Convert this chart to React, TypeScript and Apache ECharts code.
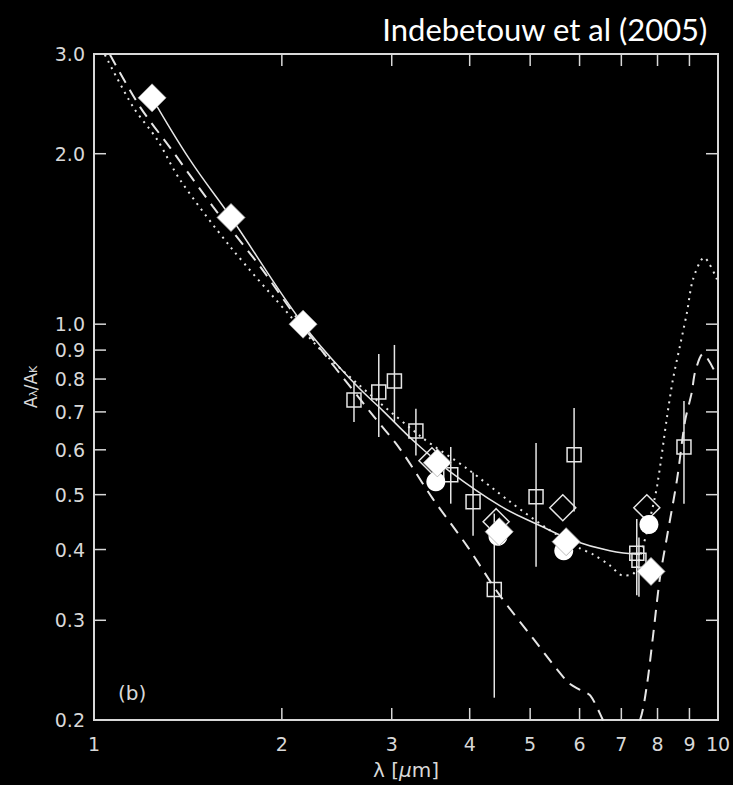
import React, { useEffect, useRef } from 'react';
import * as echarts from 'echarts';

// Axis ticks and labels
const xTicks = [1, 2, 3, 4, 5, 6, 7, 8, 9, 10];
const xTickLabels = ['1', '2', '3', '4', '5', '6', '7', '8', '9', '10'];
const yTicks = [0.2, 0.3, 0.4, 0.5, 0.6, 0.7, 0.8, 0.9, 1.0, 2.0, 3.0];
const yTickLabels = ['0.2', '0.3', '0.4', '0.5', '0.6', '0.7', '0.8', '0.9', '1.0', '2.0', '3.0'];

// Curves [lambda, A/AK]
const solidCurve = [
  [1.239, 2.51], [1.425, 1.95], [1.658, 1.543], [2.163, 1.0], [2.6, 0.791], [2.905, 0.703],
  [3.29, 0.615], [3.72, 0.549], [4.47, 0.478], [5.18, 0.441], [5.86, 0.415], [6.71, 0.398], [7.5, 0.392],
];
const dottedCurve = [
  [1.041, 2.99], [1.155, 2.42], [1.262, 2.12], [1.373, 1.8], [1.652, 1.372], [2.084, 1.021],
  [2.388, 0.868], [3.33, 0.635], [3.96, 0.556], [4.64, 0.486], [5.32, 0.436], [6.01, 0.402],
  [6.31, 0.392], [6.71, 0.375], [7.04, 0.36], [7.31, 0.362], [7.58, 0.405], [7.78, 0.453],
  [7.99, 0.519], [8.29, 0.689], [8.47, 0.8], [8.69, 0.915], [8.92, 1.05], [9.12, 1.2],
  [9.5, 1.311], [9.96, 1.2],
];
const dashedCurve = [
  [1.061, 2.99], [1.185, 2.42], [1.324, 2.05], [1.551, 1.613], [1.845, 1.265], [2.138, 1.008],
  [2.77, 0.7], [3.09, 0.603], [3.49, 0.492], [3.96, 0.406], [4.47, 0.332], [5.05, 0.279],
  [5.73, 0.234], [6.01, 0.226], [6.24, 0.221], [6.54, 0.2], [7.0, 0.17], [7.5, 0.2],
  [7.69, 0.23], [7.87, 0.282], [8.07, 0.356], [8.29, 0.423], [8.6, 0.533], [8.85, 0.672],
  [9.08, 0.759], [9.19, 0.823], [9.46, 0.886], [9.96, 0.81],
];

// Open squares with error bars
const squareX = [2.61, 2.86, 3.03, 3.28, 3.73, 4.05, 4.38, 5.11, 5.88, 7.41, 7.47, 8.82];
const squareY = [0.735, 0.759, 0.794, 0.648, 0.542, 0.486, 0.34, 0.496, 0.588, 0.394, 0.383, 0.607];
const squareLo = [0.672, 0.632, 0.672, 0.586, 0.482, 0.423, 0.219, 0.373, 0.467, 0.332, 0.33, 0.482];
const squareHi = [0.791, 0.886, 0.919, 0.709, 0.607, 0.547, 0.463, 0.617, 0.711, 0.453, 0.42, 0.732];

// Filled diamonds
const fDiamondX = [1.239, 1.658, 2.163, 3.55, 4.46, 5.71, 7.81];
const fDiamondY = [2.51, 1.543, 1.0, 0.569, 0.43, 0.413, 0.366];
// Open diamonds
const oDiamondX = [3.48, 4.41, 5.64, 7.69];
const oDiamondY = [0.574, 0.448, 0.474, 0.474];
// Filled circles
const circleX = [3.53, 4.44, 5.66, 7.75];
const circleY = [0.527, 0.422, 0.398, 0.443];

const X_MIN = 1;
const X_MAX = 10;
const Y_MIN = 0.2;
const Y_MAX = 3.0;

const AXIS = '#d8d8d8';
const LINE = '#e6e6e6';
const TICK_FONT = 'DejaVu Sans';

export default function App() {
  const ref = useRef<HTMLDivElement>(null);

  useEffect(() => {
    if (!ref.current) return;
    const chart = echarts.init(ref.current, undefined, { renderer: 'svg' });
    const tickLen = 12;

    const option: any = {
      animation: false,
      backgroundColor: '#000',
      title: {
        text: 'Indebetouw et al (2005)',
        right: 20,
        top: 8,
        textStyle: { color: '#fff', fontSize: 31, fontFamily: 'Lato', fontWeight: 'normal' },
      },
      graphic: [
        {
          type: 'text',
          left: 118,
          top: 683,
          style: { text: '(b)', fill: AXIS, fontSize: 20, fontFamily: TICK_FONT },
        },
      ],
      grid: {
        left: 94,
        top: 54,
        width: 624,
        height: 668,
        show: true,
        borderColor: AXIS,
        borderWidth: 2,
        backgroundColor: 'transparent',
      },
      xAxis: {
        type: 'log',
        logBase: 10,
        min: X_MIN,
        max: X_MAX,
        axisLine: { show: false },
        axisTick: { show: false },
        axisLabel: { show: false },
        splitLine: { show: false },
        name: 'λ [{i|μ}m]',
        nameLocation: 'middle',
        nameGap: 40,
        nameTextStyle: {
          color: AXIS,
          fontSize: 20,
          fontFamily: TICK_FONT,
          rich: { i: { fontStyle: 'italic', fontSize: 20, color: AXIS, fontFamily: TICK_FONT } },
        },
      },
      yAxis: {
        type: 'log',
        logBase: 10,
        min: Y_MIN,
        max: Y_MAX,
        axisLine: { show: false },
        axisTick: { show: false },
        axisLabel: { show: false },
        splitLine: { show: false },
        name: '{a|A}{s|λ}{a|/A}{s|K}',
        nameLocation: 'middle',
        nameRotate: 90,
        nameGap: 55,
        nameTextStyle: {
          color: AXIS,
          fontFamily: TICK_FONT,
          rich: {
            a: { fontSize: 17, color: AXIS, fontFamily: TICK_FONT },
            s: { fontSize: 11, color: AXIS, fontFamily: TICK_FONT, verticalAlign: 'bottom', padding: [6, 0, 0, 0] },
          },
        },
      },
      series: [
        {
          type: 'line',
          data: solidCurve,
          smooth: 0.4,
          symbol: 'none',
          lineStyle: { color: LINE, width: 1.5 },
          z: 2,
        },
        {
          type: 'line',
          data: dottedCurve,
          smooth: 0.3,
          symbol: 'none',
          lineStyle: { color: LINE, width: 2, type: [2, 5] },
          z: 2,
        },
        {
          type: 'line',
          data: dashedCurve,
          smooth: 0.3,
          symbol: 'none',
          lineStyle: { color: LINE, width: 2, type: [12, 8] },
          z: 2,
        },
        {
          type: 'custom',
          coordinateSystem: 'cartesian2d',
          clip: true,
          silent: true,
          z: 3,
          data: squareX.map((x, i) => [x, squareY[i], squareLo[i], squareHi[i]]),
          renderItem: (params: any, api: any) => {
            const x = api.value(0);
            const p1 = api.coord([x, api.value(2)]);
            const p2 = api.coord([x, api.value(3)]);
            return {
              type: 'line',
              shape: { x1: p1[0], y1: p1[1], x2: p2[0], y2: p2[1] },
              style: { stroke: LINE, lineWidth: 1.5 },
            };
          },
        },
        {
          type: 'scatter',
          data: squareX.map((x, i) => [x, squareY[i]]),
          symbol: 'rect',
          symbolSize: 14,
          itemStyle: { color: 'transparent', borderColor: LINE, borderWidth: 1.5, opacity: 1 },
          z: 4,
        },
        {
          type: 'scatter',
          data: oDiamondX.map((x, i) => [x, oDiamondY[i]]),
          symbol: 'diamond',
          symbolSize: 26,
          itemStyle: { color: 'transparent', borderColor: LINE, borderWidth: 1.5, opacity: 1 },
          z: 5,
        },
        {
          type: 'scatter',
          data: circleX.map((x, i) => [x, circleY[i]]),
          symbol: 'circle',
          symbolSize: 19,
          itemStyle: { color: '#fff', opacity: 1 },
          z: 6,
        },
        {
          type: 'scatter',
          data: fDiamondX.map((x, i) => [x, fDiamondY[i]]),
          symbol: 'diamond',
          symbolSize: 28,
          itemStyle: { color: '#fff', borderColor: '#aaa', borderWidth: 0.8, opacity: 1 },
          z: 7,
        },
        // x ticks and labels
        {
          type: 'custom',
          coordinateSystem: 'cartesian2d',
          clip: false,
          silent: true,
          z: 8,
          data: xTicks.map((v, i) => [v, Y_MIN, i]),
          renderItem: (params: any, api: any) => {
            const v = api.value(0);
            const i = api.value(2);
            const pb = api.coord([v, Y_MIN]);
            const pt = api.coord([v, Y_MAX]);
            const children: any[] = [];
            if (v > X_MIN && v < X_MAX) {
              children.push({
                type: 'line',
                shape: { x1: pb[0], y1: pb[1], x2: pb[0], y2: pb[1] - tickLen },
                style: { stroke: AXIS, lineWidth: 1.5 },
              });
              children.push({
                type: 'line',
                shape: { x1: pt[0], y1: pt[1], x2: pt[0], y2: pt[1] + tickLen },
                style: { stroke: AXIS, lineWidth: 1.5 },
              });
            }
            children.push({
              type: 'text',
              x: pb[0],
              y: pb[1] + 14,
              style: {
                text: xTickLabels[i],
                fill: AXIS,
                fontSize: 19,
                fontFamily: TICK_FONT,
                align: 'center',
                verticalAlign: 'top',
              },
            });
            return { type: 'group', children };
          },
        },
        // y ticks and labels
        {
          type: 'custom',
          coordinateSystem: 'cartesian2d',
          clip: false,
          silent: true,
          z: 8,
          data: yTicks.map((v, i) => [X_MIN, v, i]),
          renderItem: (params: any, api: any) => {
            const v = api.value(1);
            const i = api.value(2);
            const pl = api.coord([X_MIN, v]);
            const pr = api.coord([X_MAX, v]);
            return {
              type: 'group',
              children: [
                {
                  type: 'line',
                  shape: { x1: pl[0], y1: pl[1], x2: pl[0] + tickLen, y2: pl[1] },
                  style: { stroke: AXIS, lineWidth: 1.5 },
                },
                {
                  type: 'line',
                  shape: { x1: pr[0], y1: pr[1], x2: pr[0] - tickLen, y2: pr[1] },
                  style: { stroke: AXIS, lineWidth: 1.5 },
                },
                {
                  type: 'text',
                  x: pl[0] - 9,
                  y: pl[1],
                  style: {
                    text: yTickLabels[i],
                    fill: AXIS,
                    fontSize: 19,
                    fontFamily: TICK_FONT,
                    align: 'right',
                    verticalAlign: 'middle',
                  },
                },
              ],
            };
          },
        },
      ],
    };

    chart.setOption(option);
    return () => {
      chart.dispose();
    };
  }, []);

  return (
    <div
      ref={ref}
      style={{ position: 'fixed', left: 0, top: 0, width: 733, height: 785, background: '#000' }}
    />
  );
}
